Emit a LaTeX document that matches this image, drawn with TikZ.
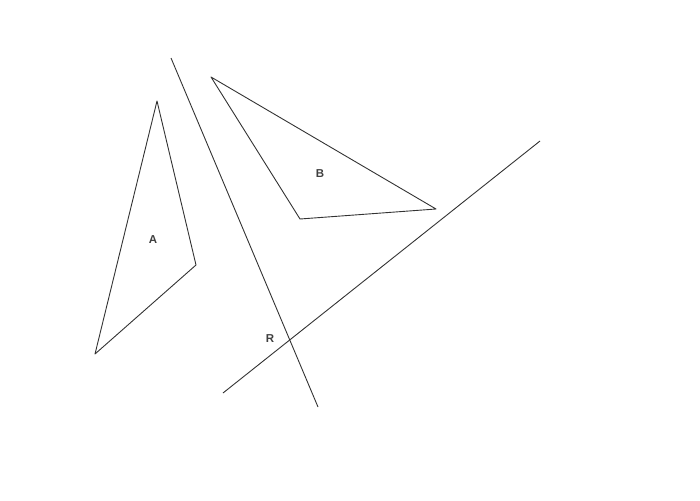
\documentclass[tikz,border=0pt]{standalone}
\usepackage{fontspec}
\setmainfont{Liberation Sans}
\usepackage{tikz}

\begin{document}
\begin{tikzpicture}[x=1pt,y=-1pt,line width=0.9pt,
    edge/.style={draw=black!80,line join=round},
    lbl/.style={text=black!75,font=\fontsize{11.5}{13}\selectfont\bfseries,inner sep=1pt}]
  \useasboundingbox (0,0) rectangle (700,500);
  % triangle A
  \coordinate (a1) at (157,101);
  \coordinate (a2) at (196,265);
  \coordinate (a3) at (95,354);
  \draw[edge] (a1) -- (a2) -- (a3) -- cycle;
  \node[lbl] (A) at (153,240) {A};
  % triangle B
  \coordinate (b1) at (211,77);
  \coordinate (b2) at (436,209);
  \coordinate (b3) at (300,219);
  \draw[edge] (b1) -- (b2) -- (b3) -- cycle;
  \node[lbl] (B) at (320,174) {B};
  % the two lines
  \coordinate (l1s) at (171,58);
  \coordinate (l1e) at (318,407);
  \coordinate (l2s) at (223,393);
  \coordinate (l2e) at (540,141);
  \draw[edge] (l1s) -- (l1e);
  \draw[edge] (l2s) -- (l2e);
  \node[lbl] (R) at (270,339) {R};
\end{tikzpicture}
\end{document}
